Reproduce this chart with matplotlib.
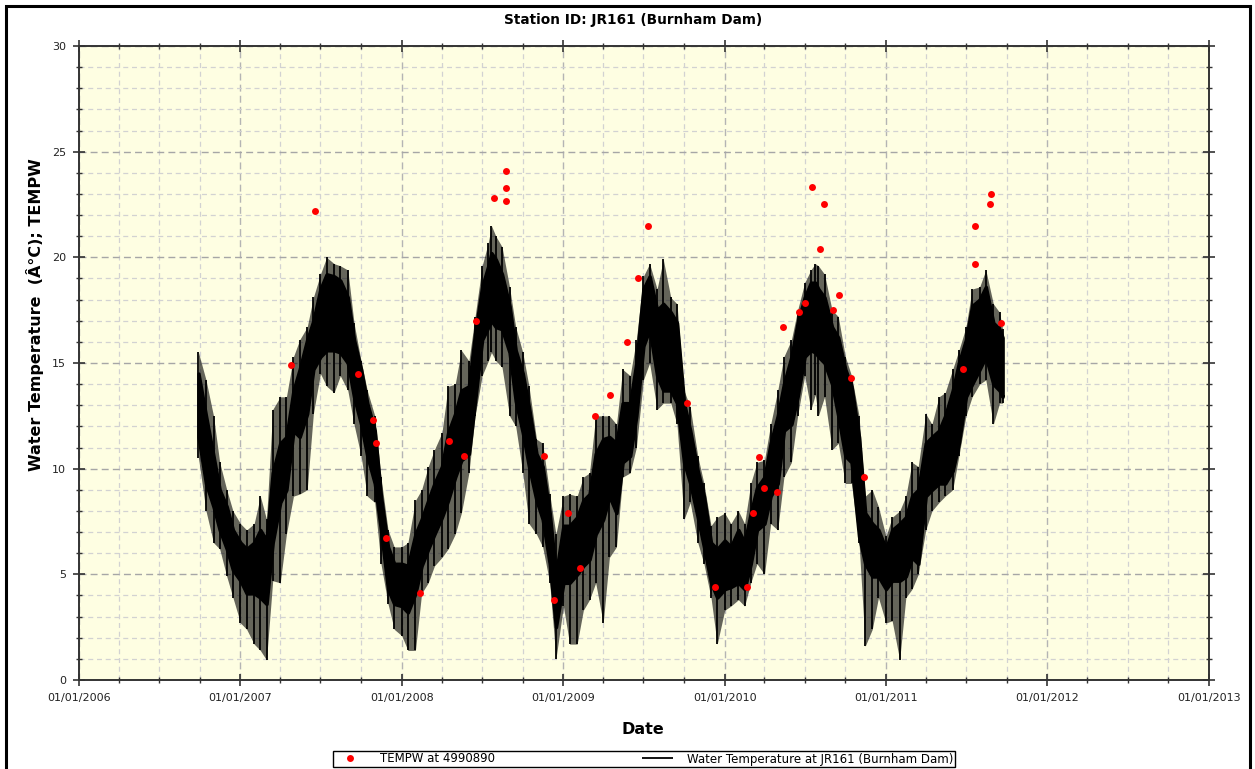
import pandas as pd
import matplotlib
matplotlib.use("Agg")
import matplotlib.pyplot as plt
import matplotlib.dates as mdates
from matplotlib.patches import Rectangle
from matplotlib.ticker import MultipleLocator

# ---------------------------------------------------------------- data
# black trace: read as an envelope every ~half month
band_dates = [
    "2006-09-28", "2006-10-15", "2006-11-01", "2006-11-15", "2006-12-01", "2006-12-15",
    "2007-01-01", "2007-01-15", "2007-02-01", "2007-02-15", "2007-03-01", "2007-03-15",
    "2007-04-01", "2007-04-15", "2007-05-01", "2007-05-15", "2007-06-01", "2007-06-15",
    "2007-07-01", "2007-07-15", "2007-08-01", "2007-08-15", "2007-09-01", "2007-09-15",
    "2007-10-01", "2007-10-15", "2007-11-01", "2007-11-15", "2007-12-01", "2007-12-15",
    "2008-01-01", "2008-01-15", "2008-02-01", "2008-02-15", "2008-03-01", "2008-03-15",
    "2008-04-01", "2008-04-15", "2008-05-01", "2008-05-15", "2008-06-01", "2008-06-15",
    "2008-07-01", "2008-07-15", "2008-07-22", "2008-08-01", "2008-08-15", "2008-09-01",
    "2008-09-15", "2008-10-01", "2008-10-15", "2008-11-01", "2008-11-15", "2008-12-01",
    "2008-12-15", "2009-01-01", "2009-01-15", "2009-02-01", "2009-02-15", "2009-03-01",
    "2009-03-15", "2009-04-01", "2009-04-15", "2009-05-01", "2009-05-15", "2009-06-01",
    "2009-06-15", "2009-07-01", "2009-07-15", "2009-08-01", "2009-08-15", "2009-09-01",
    "2009-09-15", "2009-10-01", "2009-10-15", "2009-11-01", "2009-11-15", "2009-12-01",
    "2009-12-15", "2010-01-01", "2010-01-15", "2010-02-01", "2010-02-15", "2010-03-01",
    "2010-03-15", "2010-04-01", "2010-04-15", "2010-05-01", "2010-05-15", "2010-06-01",
    "2010-06-15", "2010-07-01", "2010-07-15", "2010-07-25", "2010-08-01", "2010-08-15",
    "2010-09-01", "2010-09-15", "2010-10-01", "2010-10-15", "2010-11-01", "2010-11-15",
    "2010-12-01", "2010-12-15", "2011-01-01", "2011-01-15", "2011-02-01", "2011-02-15",
    "2011-03-01", "2011-03-15", "2011-04-01", "2011-04-15", "2011-05-01", "2011-05-15",
    "2011-06-01", "2011-06-15", "2011-07-01", "2011-07-15", "2011-08-01", "2011-08-15",
    "2011-09-01", "2011-09-15", "2011-09-22",
]
spike_lo = [
    10.5, 8.0, 6.5, 6.2, 4.9, 3.9, 2.7, 2.4, 1.7, 1.4, 0.95, 4.7,
    4.6, 6.9, 8.7, 8.8, 9.0, 12.6, 14.5, 13.9, 13.6, 14.4, 13.7, 12.1,
    10.6, 8.7, 8.4, 5.5, 3.6, 2.4, 2.1, 1.4, 1.4, 4.1, 4.6, 5.4,
    5.8, 6.2, 6.9, 7.9, 9.8, 12.5, 14.4, 15.1, 15.5, 15.1, 14.8, 12.5,
    12.0, 9.8, 7.4, 6.9, 6.3, 4.6, 1.0, 3.5, 1.7, 1.7, 3.3, 3.8,
    4.6, 2.7, 5.8, 6.3, 9.6, 9.8, 11.0, 14.2, 15.0, 12.8, 13.1, 13.1,
    12.1, 7.6, 8.4, 6.5, 5.5, 3.9, 1.7, 3.3, 3.5, 3.8, 3.5, 4.6,
    5.5, 5.0, 7.4, 7.1, 9.6, 10.3, 12.5, 14.4, 12.8, 13.5, 12.5, 13.4,
    10.9, 11.2, 9.3, 9.3, 6.5, 1.6, 2.4, 3.9, 2.7, 2.8, 0.95, 3.9,
    4.3, 5.0, 7.1, 8.0, 8.4, 8.7, 9.0, 10.6, 12.5, 13.4, 14.0, 14.2,
    12.1, 13.1, 13.1,
]
core_lo = [
    11.5, 9.3, 8.2, 7.1, 6.2, 5.2, 4.7, 4.1, 4.1, 3.9, 3.6, 6.5,
    8.4, 9.0, 11.8, 11.5, 12.6, 14.7, 15.3, 15.6, 15.6, 15.5, 15.0, 13.4,
    12.1, 10.6, 9.3, 7.1, 4.3, 3.6, 3.5, 3.2, 4.1, 5.4, 6.2, 6.9,
    7.7, 8.5, 9.6, 10.4, 10.7, 13.2, 16.1, 16.7, 17.0, 16.7, 16.6, 15.5,
    13.2, 11.7, 10.1, 8.5, 7.6, 5.5, 2.5, 4.6, 4.6, 5.0, 5.4, 5.7,
    6.9, 7.6, 8.7, 7.9, 10.3, 10.6, 12.5, 15.8, 16.6, 14.4, 13.7, 13.7,
    13.1, 10.3, 9.3, 7.7, 6.3, 4.6, 3.9, 4.3, 4.4, 4.6, 4.3, 5.5,
    7.1, 7.4, 8.7, 9.3, 11.8, 12.1, 13.4, 15.3, 15.6, 15.5, 15.3, 15.0,
    14.0, 12.5, 10.6, 10.3, 6.8, 5.5, 4.9, 4.9, 4.3, 4.7, 4.7, 4.9,
    5.8, 5.5, 8.7, 9.0, 9.3, 9.3, 9.9, 11.2, 13.4, 14.0, 14.7, 15.3,
    14.0, 13.7, 13.4,
]
core_hi = [
    14.5, 12.5, 10.6, 9.0, 8.2, 7.1, 6.5, 6.2, 6.5, 7.1, 6.6, 9.8,
    11.2, 11.5, 13.7, 14.7, 16.1, 17.0, 18.5, 19.2, 19.1, 18.9, 18.1, 16.1,
    14.7, 13.1, 11.8, 8.7, 6.3, 5.5, 5.5, 5.4, 6.9, 7.6, 8.5, 9.3,
    10.1, 11.7, 12.6, 13.7, 13.9, 16.4, 18.6, 19.6, 20.2, 19.9, 19.2, 17.7,
    15.6, 14.5, 12.9, 10.7, 10.1, 7.9, 5.0, 7.3, 7.3, 7.7, 8.5, 8.8,
    10.7, 11.4, 11.5, 11.2, 13.1, 13.1, 15.0, 18.5, 19.1, 17.5, 17.8, 17.4,
    16.9, 13.1, 11.8, 9.9, 8.7, 6.5, 6.2, 6.6, 6.3, 7.1, 6.5, 7.9,
    9.1, 9.6, 11.2, 12.5, 14.0, 15.3, 16.9, 18.1, 18.8, 18.8, 18.5, 18.1,
    16.7, 16.2, 14.7, 13.9, 11.5, 7.9, 7.4, 7.1, 6.2, 7.1, 7.4, 7.7,
    8.7, 9.0, 11.2, 11.5, 11.8, 12.5, 13.7, 15.0, 16.1, 17.7, 18.0, 18.6,
    16.9, 16.6, 16.2,
]
spike_hi = [
    15.5, 14.2, 12.5, 10.3, 9.0, 8.0, 7.4, 7.1, 7.4, 8.7, 7.6, 12.8,
    13.4, 13.4, 15.3, 16.1, 16.7, 18.1, 19.2, 20.0, 19.7, 19.6, 19.4, 16.9,
    15.1, 13.7, 12.5, 9.6, 7.1, 6.3, 6.3, 6.5, 8.5, 9.0, 10.1, 10.9,
    11.7, 13.9, 14.0, 15.6, 15.1, 17.2, 19.6, 20.7, 21.5, 21.0, 20.5, 18.6,
    16.7, 15.5, 13.9, 11.4, 11.2, 8.8, 6.9, 8.7, 8.8, 8.7, 9.6, 9.8,
    12.5, 12.5, 12.5, 12.1, 14.7, 14.4, 16.1, 19.1, 19.7, 18.5, 19.9, 18.1,
    17.8, 13.7, 12.9, 10.6, 9.3, 7.3, 7.7, 7.9, 7.4, 8.0, 7.4, 9.3,
    10.3, 10.4, 12.1, 13.7, 15.3, 16.1, 17.5, 18.8, 19.4, 19.7, 19.6, 19.2,
    17.5, 17.2, 15.3, 14.4, 12.5, 8.7, 9.0, 8.2, 6.8, 7.7, 8.0, 8.7,
    10.3, 10.1, 12.6, 12.1, 13.4, 13.6, 14.7, 15.6, 16.7, 18.5, 18.6, 19.4,
    17.8, 17.4, 16.6,
]

# red sample points (TEMPW at 4990890)
tempw_dates = [
    "2007-04-25", "2007-06-19", "2007-09-23", "2007-10-29", "2007-11-03", "2007-11-27",
    "2008-02-11", "2008-04-16", "2008-05-20", "2008-06-17", "2008-07-27", "2008-08-23",
    "2008-08-23", "2008-08-25", "2008-11-17", "2008-12-10", "2009-01-12", "2009-02-08",
    "2009-03-14", "2009-04-17", "2009-05-25", "2009-06-19", "2009-07-12", "2009-10-08",
    "2009-12-10", "2010-02-20", "2010-03-05", "2010-03-20", "2010-03-31", "2010-04-29",
    "2010-05-12", "2010-06-18", "2010-07-01", "2010-07-18", "2010-08-04", "2010-08-13",
    "2010-09-02", "2010-09-16", "2010-10-14", "2010-11-12", "2011-06-24", "2011-07-21",
    "2011-07-21", "2011-08-24", "2011-08-27", "2011-09-19",
]
tempw_vals = [
    14.9, 22.2, 14.5, 12.3, 11.2, 6.7,
    4.1, 11.3, 10.6, 17.0, 22.8, 24.1,
    23.3, 22.65, 10.6, 3.8, 7.9, 5.3,
    12.5, 13.5, 16.0, 19.0, 21.5, 13.1,
    4.4, 4.4, 7.9, 10.55, 9.1, 8.9,
    16.7, 17.4, 17.85, 23.35, 20.4, 22.5,
    17.5, 18.2, 14.3, 9.6, 14.7, 19.7,
    21.5, 22.5, 23.0, 16.9,
]

# ---------------------------------------------------------------- plot
bd = pd.to_datetime(band_dates)
td = pd.to_datetime(tempw_dates)

fig = plt.figure(figsize=(12.55, 7.69), dpi=100)
ax = fig.add_axes([0.0631, 0.1157, 0.9002, 0.8245])
ax.set_facecolor('#fefee2')

# spiky fringe of the trace (half-tone), dense part black, spikes as thin verticals
ax.fill_between(bd, spike_lo, spike_hi, color='black', alpha=0.6, lw=0, zorder=2)
ax.fill_between(bd, core_lo, core_hi, color='black', lw=2.5, ec='black', zorder=3)
spikes = ax.vlines(bd, spike_lo, spike_hi, color='black', lw=1.3, zorder=3,
                   label='Water Temperature at JR161 (Burnham Dam)')
pts, = ax.plot(td, tempw_vals, 'o', color='#ff0000', ms=5, mec='none', zorder=4,
               label='TEMPW at 4990890')

ax.set_xlim(pd.Timestamp('2006-01-01'), pd.Timestamp('2013-01-01'))
ax.set_ylim(0, 30)

ax.xaxis.set_major_locator(mdates.YearLocator())
ax.xaxis.set_major_formatter(mdates.DateFormatter('%d/%m/%Y'))
ax.xaxis.set_minor_locator(mdates.MonthLocator(bymonth=[4, 7, 10]))
ax.yaxis.set_major_locator(MultipleLocator(5))
ax.yaxis.set_minor_locator(MultipleLocator(1))

ax.grid(which='major', axis='y', color='#a6a6a6', ls=(0, (5, 3)), lw=1.0, zorder=0)
ax.grid(which='minor', axis='y', color='#d2d2d2', ls=(0, (4, 3)), lw=0.9, zorder=0)
ax.grid(which='major', axis='x', color='#b4b4b4', ls=(0, (5, 3)), lw=1.0, zorder=0)
ax.grid(which='minor', axis='x', color='#d2d2d2', ls=(0, (4, 3)), lw=0.9, zorder=0)
ax.set_axisbelow(True)

ax.tick_params(which='major', direction='inout', length=8, width=1.2, color='#333333',
               labelsize=8, labelcolor='#222222', pad=5.5, top=True, right=True)
ax.tick_params(which='minor', direction='inout', length=5, width=1.0, color='#333333',
               top=True, right=True)
for s in ax.spines.values():
    s.set_color('#333333')
    s.set_linewidth(1.4)

fig.text(633 / 1255, 1 - 20 / 769, 'Station ID: JR161 (Burnham Dam)', ha='center', va='center',
         fontsize=9.8, fontweight='bold')
fig.text(643 / 1255, 1 - 729 / 769, 'Date', ha='center', va='center',
         fontsize=11.5, fontweight='bold')
fig.text(35 / 1255, 1 - 315 / 769, 'Water Temperature  (Â°C); TEMPW', ha='center', va='center',
         rotation=90, fontsize=11.5, fontweight='bold')

leg = fig.legend([pts, spikes], [pts.get_label(), spikes.get_label()], loc='center',
                 bbox_to_anchor=(644 / 1255, 1 - 759 / 769), ncol=2, fontsize=8.5,
                 frameon=True, fancybox=False, edgecolor='black', framealpha=1,
                 columnspacing=12.5, handlelength=2.6, borderpad=0.15, handletextpad=1.2)
leg.get_frame().set_linewidth(1.0)

fig.add_artist(Rectangle((6 / 1255, -0.01), 1244 / 1255, 1 - 6 / 769 + 0.01,
                         transform=fig.transFigure, fill=False, ec='black', lw=2.2))

fig.savefig('out.png', dpi=100)
